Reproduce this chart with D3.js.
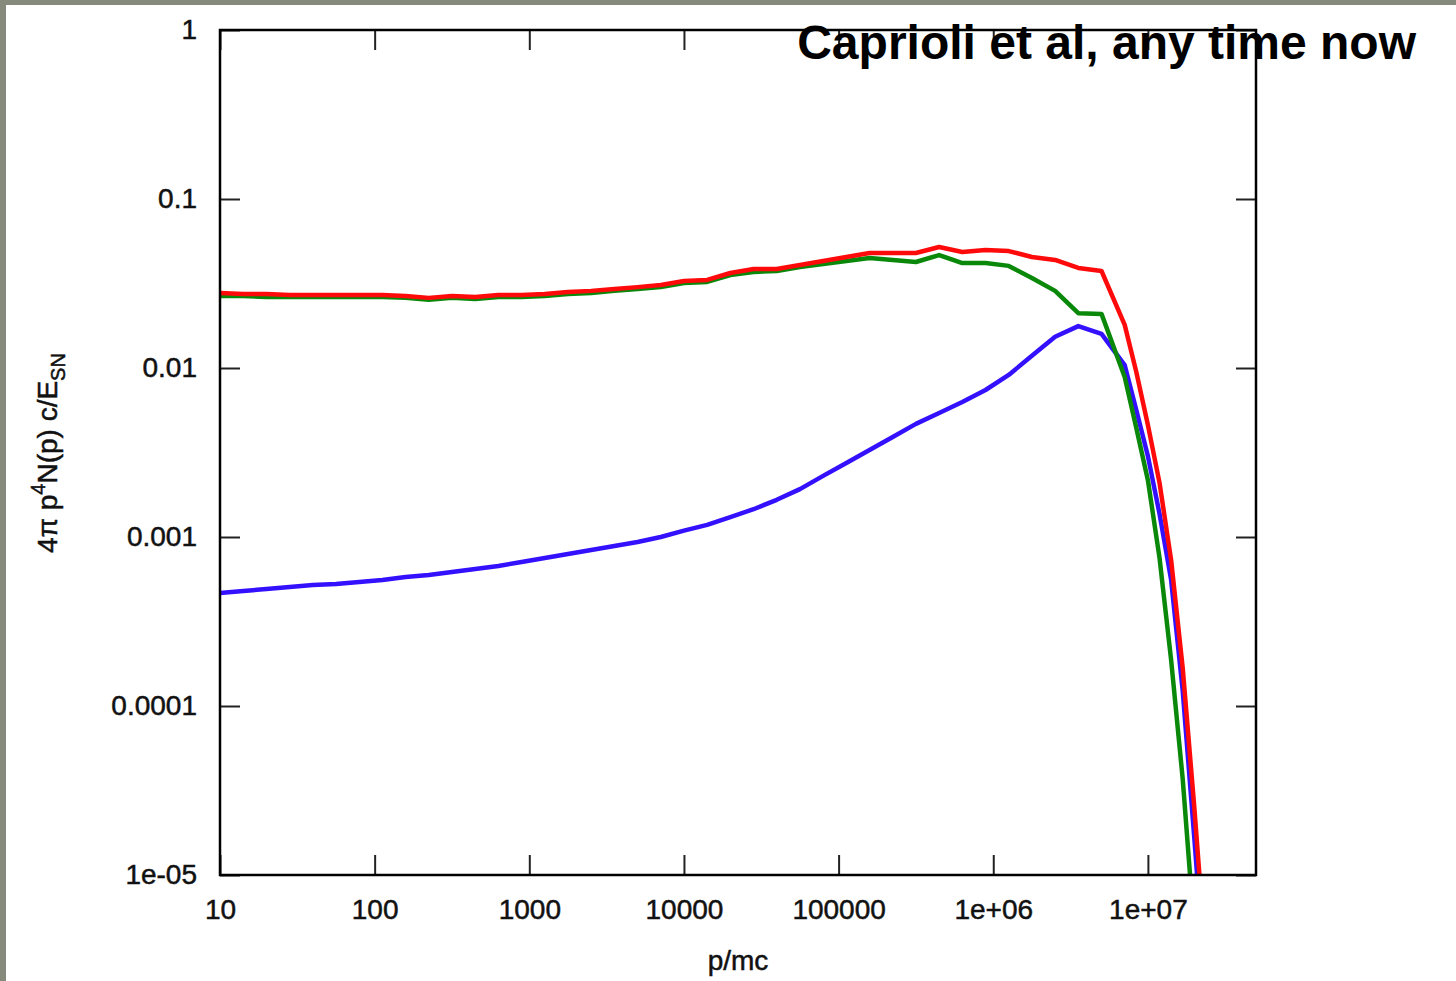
<!DOCTYPE html>
<html><head><meta charset="utf-8">
<script src="https://cdn.jsdelivr.net/npm/d3@7"></script>
<style>
html,body{margin:0;padding:0;background:#fff;}
svg{display:block;font-family:"Liberation Sans",Arial,Helvetica,sans-serif;}
</style></head>
<body>
<svg id="c" width="1456" height="981"></svg>
<script>
// ---- data (p/mc; 0.15 decade steps, finer in the cutoff) ----
const pValues = [10,14.13,19.95,28.18,39.81,56.23,79.43,112.2,158.5,223.9,316.2,446.7,631,891.3,1259,1778,2512,3548,5012,7079,
  1e4,1.413e4,1.995e4,2.818e4,3.981e4,5.623e4,7.943e4,1.122e5,1.585e5,2.239e5,3.162e5,4.467e5,6.31e5,8.913e5,
  1.259e6,1.778e6,2.512e6,3.548e6,5.012e6,7.079e6,8.414e6,1e7,1.189e7,1.413e7,1.679e7,1.995e7,2.371e7,2.818e7];
const redValues = [0.0278,0.0274,0.0274,0.0270,0.0270,0.0270,0.0270,0.0270,0.0267,0.0260,0.0267,0.0263,0.0270,0.0270,0.0274,
  0.0282,0.0286,0.0293,0.0301,0.0310,0.0327,0.0332,0.0365,0.0385,0.0385,0.0407,0.0430,0.0454,0.0479,0.0479,0.0479,
  0.0520,0.0486,0.0499,0.0492,0.0454,0.0436,0.0391,0.0375,0.0180,9.47e-3,0.0046,2.09e-3,7.31e-4,1.68e-4,2.52e-5,3.14e-6,3.5e-7];
const greenValues = [0.0267,0.0267,0.0263,0.0263,0.0263,0.0263,0.0263,0.0263,0.0260,0.0253,0.0260,0.0256,0.0263,0.0263,0.0267,
  0.0274,0.0278,0.0286,0.0293,0.0301,0.0318,0.0323,0.0355,0.0370,0.0375,0.0396,0.0412,0.0430,0.0448,0.0436,0.0424,
  0.0466,0.0418,0.0418,0.0402,0.0341,0.0286,0.0211,0.0209,8.85e-3,4.42e-3,2.17e-3,7.51e-4,1.87e-4,3.70e-5,4.7e-6,5e-7,2e-8];
const blueValues = [4.66e-4,4.79e-4,4.92e-4,5.06e-4,5.20e-4,5.27e-4,5.42e-4,5.57e-4,5.80e-4,5.96e-4,6.21e-4,6.47e-4,6.74e-4,
  7.11e-4,7.51e-4,7.93e-4,8.38e-4,8.85e-4,9.34e-4,1.0e-3,1.09e-3,1.18e-3,1.31e-3,1.46e-3,1.66e-3,1.92e-3,2.30e-3,2.74e-3,
  3.27e-3,3.91e-3,4.67e-3,5.42e-3,6.29e-3,7.41e-3,9.10e-3,1.18e-2,1.53e-2,1.77e-2,1.59e-2,1.04e-2,5.64e-3,3.01e-3,1.37e-3,
  5.57e-4,1.23e-4,1.66e-5,2.09e-6,2.36e-7];
const xTicks = [10,100,1000,1e4,1e5,1e6,1e7];
const xTickLabels = ["10","100","1000","10000","100000","1e+06","1e+07"];
const yTicks = [1e-5,1e-4,1e-3,1e-2,1e-1,1];
const yTickLabels = ["1e-05","0.0001","0.001","0.01","0.1","1"];
const titleText = "Caprioli et al, any time now";
const xLabel = "p/mc";

// ---- layout ----
const L = 220, R = 1256, T = 30, B = 875;
const svg = d3.select("#c");
svg.append("rect").attr("x",0).attr("y",0).attr("width",1456).attr("height",981).attr("fill","#858a7c");
svg.append("rect").attr("x",6).attr("y",5).attr("width",1450).attr("height",976).attr("fill","#ffffff");

const x = d3.scaleLog().domain([10,5e7]).range([L,R]);
const y = d3.scaleLog().domain([1e-5,1]).range([B,T]);

svg.append("clipPath").attr("id","clip").append("rect").attr("x",L).attr("y",T).attr("width",R-L).attr("height",B-T);

const line = d3.line().x(d=>x(d[0])).y(d=>y(d[1]));
const series = [
  {vals: blueValues, color: "#3311ff"},
  {vals: greenValues, color: "#0a880a"},
  {vals: redValues, color: "#ff0a0a"}
];
const gl = svg.append("g").attr("clip-path","url(#clip)");
series.forEach(s=>{
  const pts = s.vals.map((v,i)=>[pValues[i],v]);
  gl.append("path").attr("d",line(pts)).attr("fill","none").attr("stroke",s.color)
    .attr("stroke-width",4.5).attr("stroke-linejoin","round").attr("stroke-linecap","round");
});

function styleAxis(g){
  g.select(".domain").remove();
  g.selectAll(".tick line").attr("stroke","#222").attr("stroke-width",2);
  g.selectAll(".tick text").attr("fill","#111").attr("stroke","#111").attr("stroke-width",0.5)
    .style("font-size","28px");
}
svg.append("g").attr("transform",`translate(0,${B})`)
  .call(d3.axisBottom(x).tickValues(xTicks).tickFormat((d,i)=>xTickLabels[i]).tickSize(-20).tickPadding(24))
  .call(styleAxis);
svg.append("g").attr("transform",`translate(0,${T})`)
  .call(d3.axisTop(x).tickValues(xTicks).tickFormat("").tickSize(-20))
  .call(styleAxis);
svg.append("g").attr("transform",`translate(${L},0)`)
  .call(d3.axisLeft(y).tickValues(yTicks).tickFormat((d,i)=>yTickLabels[i]).tickSize(-20).tickPadding(23))
  .call(styleAxis);
svg.append("g").attr("transform",`translate(${R},0)`)
  .call(d3.axisRight(y).tickValues(yTicks).tickFormat("").tickSize(-20))
  .call(styleAxis);

svg.append("rect").attr("x",L).attr("y",T).attr("width",R-L).attr("height",B-T)
  .attr("fill","none").attr("stroke","#000").attr("stroke-width",2.5);

// axis labels
svg.append("text").attr("x",738).attr("y",970).attr("text-anchor","middle")
  .attr("stroke","#111").attr("stroke-width",0.5)
  .style("font-size","28px").attr("fill","#111").text(xLabel);

const yl = svg.append("text").attr("transform","translate(57,453) rotate(-90)")
  .attr("text-anchor","middle").style("font-size","28px").attr("fill","#111")
  .attr("stroke","#111").attr("stroke-width",0.5);
yl.append("tspan").text("4\u03c0 p");
yl.append("tspan").attr("dy",-12).style("font-size","20px").text("4");
yl.append("tspan").attr("dy",12).text("N(p) c/E");
yl.append("tspan").attr("dy",8).style("font-size","20px").text("SN");

// title
svg.append("text").attr("x",1416).attr("y",59).attr("text-anchor","end")
  .style("font-size","48px").style("font-weight","bold").attr("fill","#000").text(titleText);
</script>
</body></html>
